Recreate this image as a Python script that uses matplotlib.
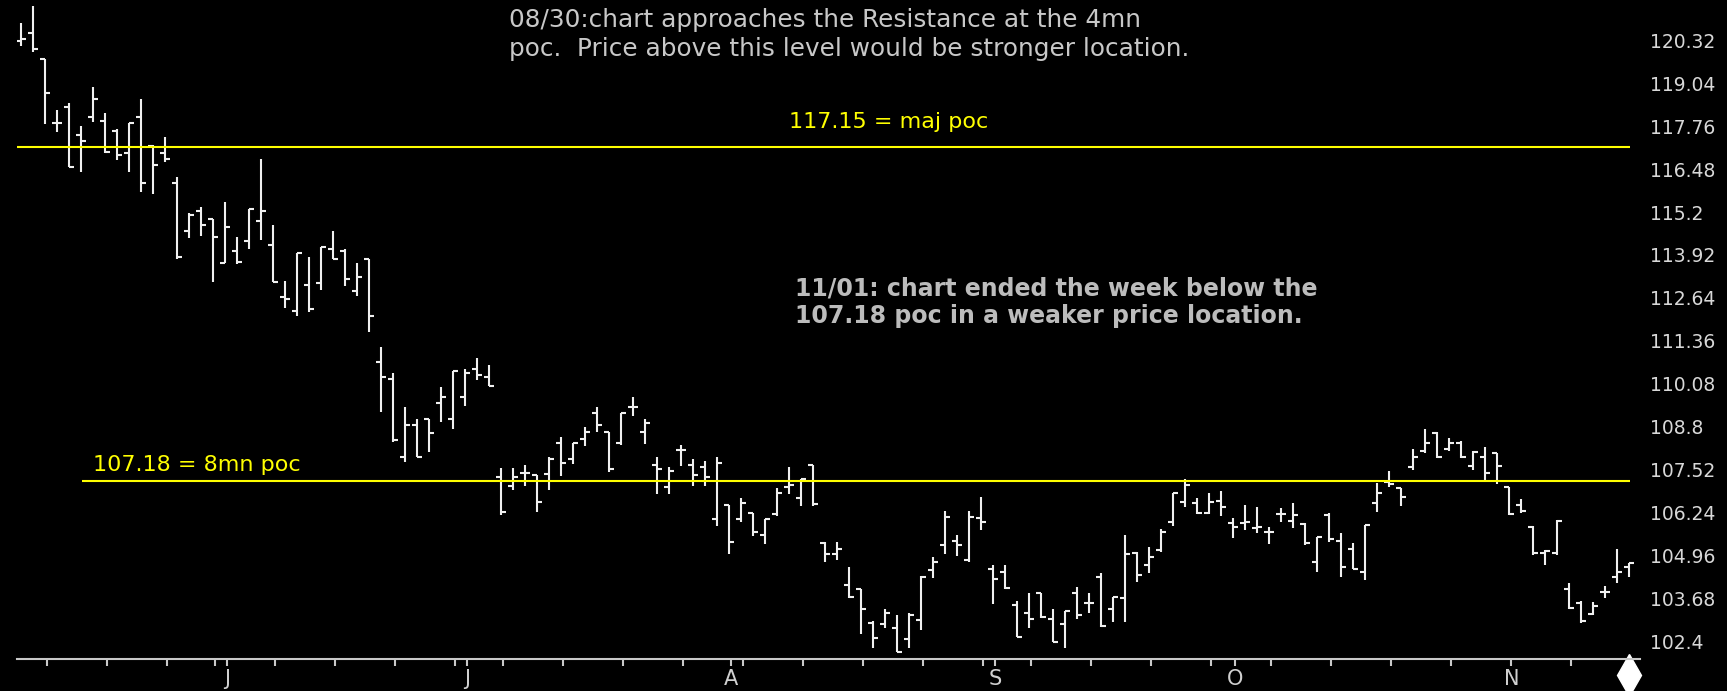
import numpy as np
import matplotlib.pyplot as plt
from matplotlib.transforms import blended_transform_factory

W, H = 1727, 691

# daily OHLC, one entry per trading day (May 2024 -> mid Nov 2024)
opens = [
    120.31, 120.55, 119.77, 117.85, 118.33, 117.50, 118.05, 117.92, 117.63, 116.95,
    118.03, 117.18, 116.95, 116.08, 114.64, 115.24, 114.99, 113.67, 114.05, 114.35,
    114.93, 114.22, 112.68, 112.26, 113.03, 113.09, 114.09, 114.05, 112.85, 113.80,
    110.74, 110.21, 107.89, 108.85, 109.02, 109.50, 109.02, 109.69, 110.51, 110.29,
    107.29, 107.04, 107.43, 107.36, 107.39, 108.32, 107.83, 108.42, 109.20, 108.65,
    108.30, 109.40, 108.65, 107.66, 106.99, 108.10, 107.66, 107.59, 106.04, 106.46,
    106.04, 106.23, 105.57, 106.20, 106.99, 106.66, 107.66, 105.32, 105.00, 104.08,
    103.96, 102.94, 102.91, 102.79, 102.46, 103.03, 104.53, 105.27, 105.40, 104.82,
    106.07, 104.55, 104.45, 103.48, 103.23, 103.85, 103.06, 102.92, 103.83, 103.55,
    104.31, 103.35, 103.68, 105.02, 104.67, 105.12, 105.97, 106.56, 106.53, 106.23,
    106.59, 105.94, 105.92, 105.77, 105.67, 106.20, 106.00, 105.90, 104.77, 106.17,
    105.40, 105.14, 104.45, 106.51, 107.16, 106.96, 107.59, 108.08, 108.62, 108.13,
    108.32, 107.63, 107.90, 108.02, 106.99, 106.46, 105.82, 105.04, 105.02, 103.95,
    103.55, 103.21, 103.88, 104.31, 104.61,
]
highs = [
    120.85, 121.35, 119.77, 118.24, 118.46, 117.77, 118.94, 118.16, 117.69, 117.87,
    118.58, 117.20, 117.45, 116.24, 115.16, 115.36, 114.99, 115.49, 114.47, 115.29,
    116.78, 114.82, 113.15, 113.97, 113.87, 114.17, 114.65, 114.09, 113.67, 113.80,
    111.17, 110.39, 109.40, 109.02, 109.02, 109.99, 110.46, 110.52, 110.84, 110.64,
    107.56, 107.56, 107.66, 107.36, 107.89, 108.50, 108.32, 108.80, 109.40, 108.65,
    109.20, 109.69, 109.02, 107.90, 107.59, 108.25, 107.83, 107.79, 107.90, 106.46,
    106.66, 106.23, 106.04, 106.96, 107.59, 107.25, 107.66, 105.37, 105.37, 104.62,
    103.96, 103.01, 103.35, 103.18, 103.23, 104.35, 104.92, 106.29, 105.57, 106.29,
    106.71, 104.67, 104.67, 103.61, 103.85, 103.85, 103.35, 103.31, 104.03, 103.83,
    104.43, 103.73, 105.57, 105.07, 105.22, 105.74, 106.81, 107.24, 106.66, 106.81,
    106.88, 106.07, 106.46, 106.41, 105.82, 106.37, 106.53, 105.94, 105.52, 106.22,
    105.64, 105.32, 105.87, 107.13, 107.49, 106.96, 108.13, 108.73, 108.65, 108.45,
    108.38, 108.08, 108.20, 108.02, 106.99, 106.63, 105.84, 105.12, 106.02, 104.15,
    103.61, 103.58, 104.05, 105.14, 104.73,
]
lows = [
    120.16, 119.98, 117.83, 117.60, 116.54, 116.40, 117.90, 116.95, 116.75, 116.40,
    115.79, 115.74, 116.70, 113.79, 114.42, 114.49, 113.12, 113.67, 113.65, 114.09,
    114.37, 113.12, 112.33, 112.10, 112.22, 112.88, 113.79, 113.00, 112.70, 111.63,
    109.25, 108.35, 107.76, 107.88, 108.05, 108.95, 108.72, 109.43, 110.19, 110.02,
    106.17, 106.91, 107.04, 106.26, 106.91, 107.33, 107.69, 108.22, 108.63, 107.46,
    108.25, 109.12, 108.28, 106.79, 106.79, 107.63, 107.03, 107.03, 105.84, 105.00,
    105.97, 105.54, 105.30, 106.14, 106.79, 106.43, 106.43, 104.77, 104.82, 103.68,
    102.62, 102.19, 102.79, 102.09, 102.19, 102.74, 104.28, 105.00, 104.94, 104.77,
    105.72, 103.51, 103.95, 102.52, 102.79, 103.09, 102.39, 102.19, 103.06, 103.23,
    102.83, 102.98, 102.98, 104.18, 104.43, 105.07, 105.84, 106.40, 106.20, 106.20,
    106.14, 105.47, 105.72, 105.64, 105.30, 105.97, 105.77, 105.27, 104.47, 105.37,
    104.31, 104.55, 104.23, 106.26, 107.01, 106.43, 107.51, 108.01, 107.86, 108.08,
    107.86, 107.51, 107.21, 107.09, 106.17, 106.23, 104.97, 104.67, 104.97, 103.35,
    102.94, 103.18, 103.68, 104.13, 104.31,
]
closes = [
    120.36, 120.05, 118.74, 117.85, 116.54, 117.31, 118.57, 117.00, 116.90, 117.87,
    116.07, 116.60, 116.77, 113.85, 115.11, 114.82, 114.45, 114.75, 113.72, 115.29,
    115.23, 113.12, 112.61, 113.97, 112.30, 114.15, 113.79, 113.20, 113.26, 112.11,
    110.29, 108.40, 108.85, 107.88, 108.60, 109.69, 110.46, 110.39, 110.34, 110.02,
    106.26, 107.29, 107.43, 106.56, 107.84, 107.71, 108.32, 108.65, 108.85, 107.53,
    109.20, 109.40, 108.90, 107.53, 107.49, 108.10, 107.36, 107.29, 107.71, 105.37,
    106.51, 105.67, 106.04, 106.81, 107.06, 107.23, 106.49, 105.00, 105.14, 103.71,
    103.35, 102.49, 103.23, 102.09, 103.18, 104.33, 104.77, 106.12, 105.27, 106.12,
    105.97, 104.25, 103.98, 102.52, 103.06, 103.12, 102.39, 103.31, 103.18, 103.55,
    102.86, 103.71, 105.00, 104.38, 104.90, 105.67, 106.81, 107.06, 106.23, 106.56,
    106.40, 105.80, 105.97, 105.80, 105.67, 106.20, 106.17, 105.32, 105.52, 105.44,
    104.61, 104.55, 105.87, 106.81, 107.09, 106.69, 107.89, 108.32, 107.89, 108.32,
    107.89, 108.05, 107.41, 107.63, 106.20, 106.29, 105.02, 105.10, 106.00, 103.38,
    103.01, 103.45, 103.88, 104.47, 104.73,
]

# bar index of the first session of each month, and of each week's last session
month_bars = [17, 37, 59, 81, 101, 124]
month_labels = ["J", "J", "A", "S", "O", "N"]
week_bars = [2, 7, 12, 16, 21, 26, 31, 36, 40, 45, 50, 55, 60, 65, 70, 75, 80,
             84, 89, 94, 99, 104, 109, 114, 119, 124, 129]

price_ticks = [102.4, 103.68, 104.96, 106.24, 107.52, 108.8, 110.08, 111.36,
               112.64, 113.92, 115.2, 116.48, 117.76, 119.04, 120.32]
price_labels = ["102.4", "103.68", "104.96", "106.24", "107.52", "108.8", "110.08",
                "111.36", "112.64", "113.92", "115.2", "116.48", "117.76", "119.04",
                "120.32"]

maj_poc = 117.15
mn8_poc = 107.18

BAR = "#f0f0f0"
GREY = "#c8c8c8"
YELLOW = "#ffff00"

fig = plt.figure(figsize=(W / 100, H / 100), dpi=100, facecolor="black")
ax = fig.add_axes([17 / W, 32 / H, 1623 / W, 659 / H])
ax.set_facecolor("black")

x = np.arange(len(closes))
ax.vlines(x, lows, highs, color=BAR, lw=1.5)
ax.hlines(opens, x - 0.4, x, color=BAR, lw=1.5)
ax.hlines(closes, x, x + 0.4, color=BAR, lw=1.5)

# poc levels
ax.hlines(maj_poc, -0.333, 134.1, color=YELLOW, lw=1.5)
ax.hlines(mn8_poc, 5.1, 134.1, color=YELLOW, lw=1.5)

ax.set_xlim(-0.333, 134.92)
ax.set_ylim(101.87, 121.525)

for side in ["top", "left", "right"]:
    ax.spines[side].set_visible(False)
ax.spines["bottom"].set_color(GREY)
ax.spines["bottom"].set_linewidth(1.5)

ax.set_xticks([b + 0.2 for b in month_bars])
ax.set_xticklabels(month_labels)
ax.set_xticks([b + 0.2 for b in week_bars], minor=True)
ax.tick_params(axis="x", which="both", direction="out", length=5, width=1.5,
               color=GREY, labelcolor="#d0d0d0", labelsize=15, pad=2)

ax.yaxis.tick_right()
ax.set_yticks(price_ticks)
ax.set_yticklabels(price_labels)
ax.tick_params(axis="y", length=0, pad=7, labelsize=13.5, labelcolor="#d8d8d8")

# marker under the last bar
trans = blended_transform_factory(ax.transData, ax.transAxes)
ax.plot([len(closes) - 1], [-0.024], marker="d", ms=21, color="white",
        transform=trans, clip_on=False)

fig.text(509 / W, 1 - 8 / H,
         "08/30:chart approaches the Resistance at the 4mn\n"
         "poc.  Price above this level would be stronger location.",
         color=GREY, fontsize=17.8, ha="left", va="top", linespacing=1.25)

fig.text(789 / W, 1 - 127.5 / H, "117.15 = maj poc", color=YELLOW,
         fontsize=16, va="baseline")
fig.text(93 / W, 1 - 470.7 / H, "107.18 = 8mn poc", color=YELLOW,
         fontsize=16, va="baseline")

note = ["11/01: chart ended the week below the",
        "107.18 poc in a weaker price location."]
for k, line in enumerate(note):
    fig.text(795 / W, 1 - (295 + 27.5 * k) / H, line, color="#bcbcbc",
             fontsize=17, fontweight="bold", va="baseline")

fig.savefig("out.png", dpi=100, facecolor="black")
